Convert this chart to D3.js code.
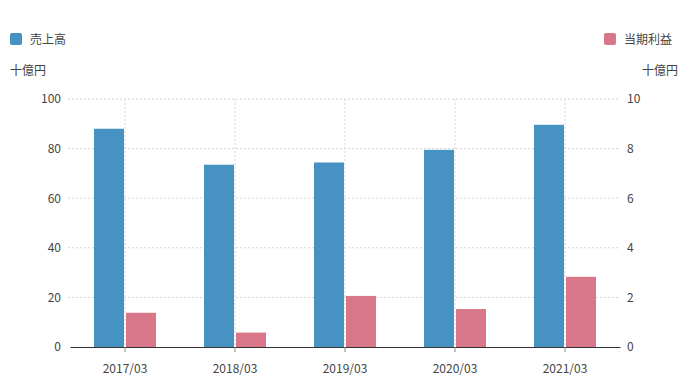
<!DOCTYPE html>
<html><head><meta charset="utf-8">
<script src="https://cdn.jsdelivr.net/npm/d3@7"></script>
<style>
body{margin:0;background:#fff;}
text{font-family:"Noto Sans CJK JP","Noto Sans",sans-serif;}
</style></head>
<body><svg id="c" width="683" height="391"></svg>
<script>
const categories = ["2017/03","2018/03","2019/03","2020/03","2021/03"];
const sales = [88.0, 73.5, 74.4, 79.5, 89.6];
const profit = [1.38, 0.58, 2.06, 1.53, 2.83];
const leftTicks = [0,20,40,60,80,100];
const rightTicks = [0,2,4,6,8,10];
const seriesNames = ["売上高","当期利益"];
const unitLabel = "十億円";

const svg = d3.select("#c");
const L=70, R=620, T=99, B=347;
const x = d3.scaleBand().domain(categories).range([L,R]);
const yL = d3.scaleLinear().domain([0,100]).range([B,T]);
const yR = d3.scaleLinear().domain([0,10]).range([B,T]);
const blue="#4692c2", pink="#d9778a", txt="#444";

// horizontal grid
svg.append("g").selectAll("line").data(leftTicks.slice(1)).join("line")
  .attr("x1",L-2).attr("x2",R).attr("y1",d=>yL(d)).attr("y2",d=>yL(d))
  .attr("stroke","#d4d4d4").attr("stroke-dasharray","2,2");
// vertical grid
svg.append("g").selectAll("line").data(categories).join("line")
  .attr("x1",d=>x(d)+x.bandwidth()/2).attr("x2",d=>x(d)+x.bandwidth()/2)
  .attr("y1",T).attr("y2",B).attr("stroke","#d4d4d4").attr("stroke-dasharray","2,2");

const bw=30, gap=1;
svg.append("g").selectAll("rect").data(categories).join("rect")
  .attr("x",d=>x(d)+x.bandwidth()/2-gap-bw).attr("width",bw)
  .attr("y",(d,i)=>yL(sales[i])).attr("height",(d,i)=>B-yL(sales[i]))
  .attr("fill",blue);
svg.append("g").selectAll("rect").data(categories).join("rect")
  .attr("x",d=>x(d)+x.bandwidth()/2+gap).attr("width",bw)
  .attr("y",(d,i)=>yR(profit[i])).attr("height",(d,i)=>B-yR(profit[i]))
  .attr("fill",pink);

// x axis
const gx = svg.append("g").attr("transform",`translate(0,${B})`)
  .call(d3.axisBottom(x).tickSize(5).tickSizeOuter(0));
gx.select(".domain").attr("stroke","#333");
gx.selectAll(".tick line").attr("stroke","#888");
gx.selectAll(".tick text").attr("font-size",12).attr("fill",txt).attr("dy","1.5em")
  .attr("font-family",'"Noto Sans CJK JP",sans-serif');

// left axis
const gl = svg.append("g").attr("transform",`translate(${L},0)`)
  .call(d3.axisLeft(yL).tickValues(leftTicks).tickSize(0).tickPadding(9));
gl.select(".domain").remove();
gl.selectAll(".tick text").attr("font-size",12).attr("fill",txt)
  .attr("font-family",'"Noto Sans CJK JP",sans-serif');
const gr = svg.append("g").attr("transform",`translate(${R},0)`)
  .call(d3.axisRight(yR).tickValues(rightTicks).tickSize(0).tickPadding(7));
gr.select(".domain").remove();
gr.selectAll(".tick text").attr("font-size",12).attr("fill",txt)
  .attr("font-family",'"Noto Sans CJK JP",sans-serif');

// units
svg.append("text").attr("x",10).attr("y",75).attr("font-size",12).attr("fill",txt).text(unitLabel);
svg.append("text").attr("x",678).attr("y",75).attr("text-anchor","end").attr("font-size",12).attr("fill",txt).text(unitLabel);

// legends
svg.append("rect").attr("x",10).attr("y",33).attr("width",12).attr("height",12).attr("rx",2).attr("fill",blue);
svg.append("text").attr("x",30).attr("y",44).attr("font-size",12).attr("fill",txt).text(seriesNames[0]);
svg.append("rect").attr("x",604).attr("y",33).attr("width",12).attr("height",12).attr("rx",2).attr("fill",pink);
svg.append("text").attr("x",624).attr("y",44).attr("font-size",12).attr("fill",txt).text(seriesNames[1]);
</script></body></html>
